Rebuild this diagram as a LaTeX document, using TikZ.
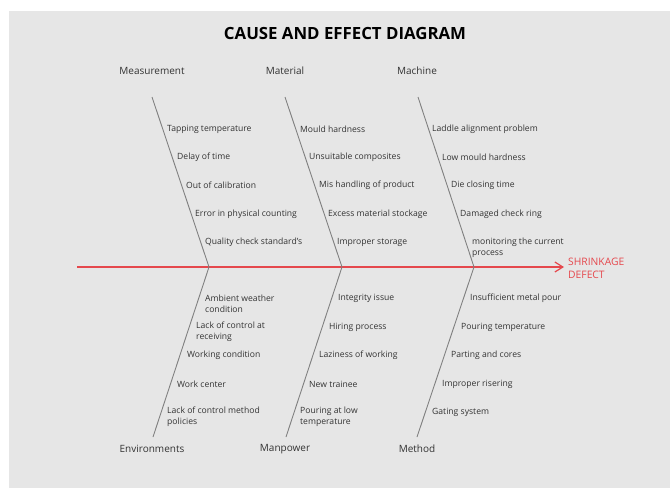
\documentclass[tikz,border=0pt]{standalone}
\usepackage{fontspec}
\setmainfont{Open Sans}
\usetikzlibrary{arrows.meta}
\definecolor{panel}{HTML}{E6E6E6}
\definecolor{bonegray}{HTML}{808080}
\definecolor{effectred}{HTML}{E5484D}
\definecolor{txt}{HTML}{333333}

\begin{document}
\begin{tikzpicture}[x=1pt,y=-1pt,
   cause/.style={anchor=west,inner sep=0pt,align=left,text=txt,
      font=\fontsize{8.6}{11}\selectfont},
   category/.style={inner sep=0pt,text=txt,font=\fontsize{10}{11}\selectfont},
   bone/.style={draw=bonegray,line width=0.9pt},
   spine/.style={draw=effectred,line width=1.2pt,
      -{Straight Barb[length=8pt,width=10pt]}}]
\useasboundingbox (0,0) rectangle (670,488);
\fill[panel] (9,11) rectangle (670,488);

% title
\node[text=black,inner sep=0pt,font=\fontsize{16.8}{18}\bfseries] (title) at (345,33)
   {CAUSE AND EFFECT DIAGRAM};

% spine and effect
\coordinate (tail) at (77,267);
\node[anchor=west,inner sep=0pt,align=left,text=effectred,
   font=\fontsize{10.3}{13}\selectfont] (effect) at (568,268) {SHRINKAGE\\DEFECT};
\draw[spine] (tail) -- ([xshift=-4pt,yshift=1pt]effect.west);

% junctions on the spine
\coordinate (jA) at (209,267);
\coordinate (jB) at (342,267);
\coordinate (jC) at (474,267);

% top categories
\node[category] (measure) at (152,71) {Measurement};
\node[category] (material) at (285,71) {Material};
\node[category] (machine) at (417,71) {Machine};
\coordinate (measureEnd) at (152,97);
\coordinate (materialEnd) at (285,97);
\coordinate (machineEnd) at (418,97);
\draw[bone] (measureEnd) -- (jA);
\draw[bone] (materialEnd) -- (jB);
\draw[bone] (machineEnd) -- (jC);

% bottom categories
\node[category] (environ) at (152,449) {Environments};
\node[category] (manpower) at (285,449) {Manpower};
\node[category] (method) at (417,449) {Method};
\coordinate (environEnd) at (153,437);
\coordinate (manpowerEnd) at (286,437);
\coordinate (methodEnd) at (417,437);
\draw[bone] (jA) -- (environEnd);
\draw[bone] (jB) -- (manpowerEnd);
\draw[bone] (jC) -- (methodEnd);

% measurement causes
\node[cause] (m1) at (167,129) {Tapping temperature};
\node[cause] (m2) at (177,157) {Delay of time};
\node[cause] (m3) at (186,185.5) {Out of calibration};
\node[cause] (m4) at (195,214) {Error in physical counting};
\node[cause] (m5) at (205,242) {Quality check standard's};

% material causes
\node[cause] (t1) at (300,129) {Mould hardness};
\node[cause] (t2) at (309,157) {Unsuitable composites};
\node[cause] (t3) at (319,185.5) {Mis handling of product};
\node[cause] (t4) at (328,214) {Excess material stockage};
\node[cause] (t5) at (337,242) {Improper storage};

% machine causes
\node[cause] (c1) at (432,129) {Laddle alignment problem};
\node[cause] (c2) at (442,157) {Low mould hardness};
\node[cause] (c3) at (451,185.5) {Die closing time};
\node[cause] (c4) at (460,214) {Damaged check ring};
\node[cause] (c5) at (472,248) {monitoring the current\\process};

% environment causes
\node[cause] (e1) at (205,304) {Ambient weather\\condition};
\node[cause] (e2) at (196,332) {Lack of control at\\receiving};
\node[cause] (e3) at (187,355.5) {Working condition};
\node[cause] (e4) at (177,384) {Work center};
\node[cause] (e5) at (167,417) {Lack of control method\\policies};

% manpower causes
\node[cause] (p1) at (338,298.5) {Integrity issue};
\node[cause] (p2) at (329,327) {Hiring process};
\node[cause] (p3) at (319,355.5) {Laziness of working};
\node[cause] (p4) at (309,384) {New trainee};
\node[cause] (p5) at (300,417) {Pouring at low\\temperature};

% method causes
\node[cause] (d1) at (470,298.5) {Insufficient metal pour};
\node[cause] (d2) at (461,327) {Pouring temperature};
\node[cause] (d3) at (451,355.5) {Parting and cores};
\node[cause] (d4) at (442,384) {Improper risering};
\node[cause] (d5) at (432,412) {Gating system};
\end{tikzpicture}
\end{document}
